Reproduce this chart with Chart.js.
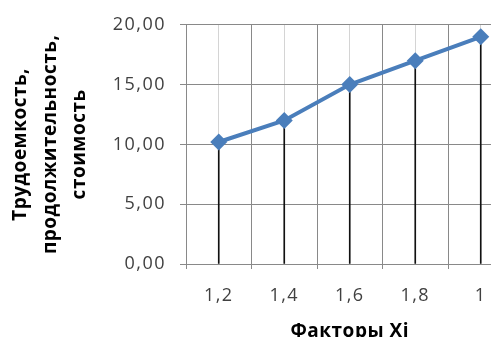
<!DOCTYPE html>
<html lang="ru">
<head>
    <meta charset="UTF-8">
    <title>Факторы Xi</title>
    <script src="https://cdn.jsdelivr.net/npm/chart.js"></script>
    <style>
        html, body { margin: 0; padding: 0; overflow: hidden; background: #fff; }
        #wrap { width: 522px; height: 350px; }
    </style>
</head>
<body>
    <div id="wrap"><canvas id="factorChart"></canvas></div>

    <script>
        const factors = ['1,2', '1,4', '1,6', '1,8', '1'];
        const values = [10.2, 12, 15, 17, 19];
        const yTitle = ['Трудоемкость,', 'продолжительность,', 'стоимость'];
        const xTitle = 'Факторы Xi';

        const darkGrid = '#898989';
        const lightGrid = '#d4d4d4';
        const blue = '#4a7ebb';
        const font = 'Open Sans';

        // axis titles get a little extra glyph spacing, tick labels (z: 1, drawn
        // after the datasets) get more
        const spacing = {
            id: 'spacing',
            beforeDraw(chart) { chart.ctx.letterSpacing = '0.5px'; },
            afterDatasetsDraw(chart) { chart.ctx.letterSpacing = '1.5px'; },
            afterDraw(chart) { chart.ctx.letterSpacing = '0px'; },
        };

        const ctx = document.getElementById('factorChart').getContext('2d');
        const factorChart = new Chart(ctx, {
            type: 'line',
            data: {
                labels: factors,
                datasets: [
                    {
                        type: 'line',
                        data: values,
                        borderColor: blue,
                        backgroundColor: blue,
                        borderWidth: 4,
                        pointStyle: 'rectRot',
                        pointRadius: 8.5,
                        pointBorderWidth: 0,
                        tension: 0,
                        order: 0,
                    },
                    {
                        // drop lines from each point down to the axis
                        type: 'bar',
                        data: values,
                        backgroundColor: '#111',
                        barThickness: 1,
                        order: 1,
                    },
                ],
            },
            plugins: [spacing],
            options: {
                responsive: true,
                maintainAspectRatio: false,
                animation: false,
                layout: { padding: { top: 22, right: 8, bottom: 0, left: 0 } },
                plugins: { legend: { display: false }, tooltip: { enabled: false } },
                scales: {
                    x: {
                        offset: true,
                        grid: { offset: true, color: darkGrid, tickLength: 5, lineWidth: 1 },
                        border: { color: darkGrid },
                        ticks: { z: 1, color: '#404040', padding: 16, font: { family: font, size: 18 } },
                        title: {
                            display: true,
                            text: xTitle,
                            color: '#000',
                            padding: { top: 4, bottom: 7 },
                            font: { family: font, size: 19, weight: 'bold' },
                        },
                        afterFit: (scale) => { scale.height = 86; },
                    },
                    x2: {
                        type: 'category',
                        labels: factors,
                        position: 'bottom',
                        offset: true,
                        grid: { offset: false, color: lightGrid, drawTicks: false },
                        border: { display: false },
                        ticks: { display: false },
                        afterFit: (scale) => { scale.height = 0; },
                    },
                    y: {
                        min: 0,
                        max: 20,
                        ticks: {
                            z: 1,
                            stepSize: 5,
                            color: '#404040',
                            padding: 14,
                            font: { family: font, size: 18 },
                            callback: (v) => v.toFixed(2).replace('.', ','),
                        },
                        grid: { color: darkGrid, tickLength: 6 },
                        border: { color: darkGrid },
                        title: {
                            display: true,
                            text: yTitle,
                            color: '#000',
                            padding: { top: 6, bottom: 0 },
                            font: { family: font, size: 19, weight: 'bold', lineHeight: 1.55 },
                        },
                        afterFit: (scale) => { scale.width = 186; },
                    },
                },
            },
        });
    </script>
</body>
</html>
